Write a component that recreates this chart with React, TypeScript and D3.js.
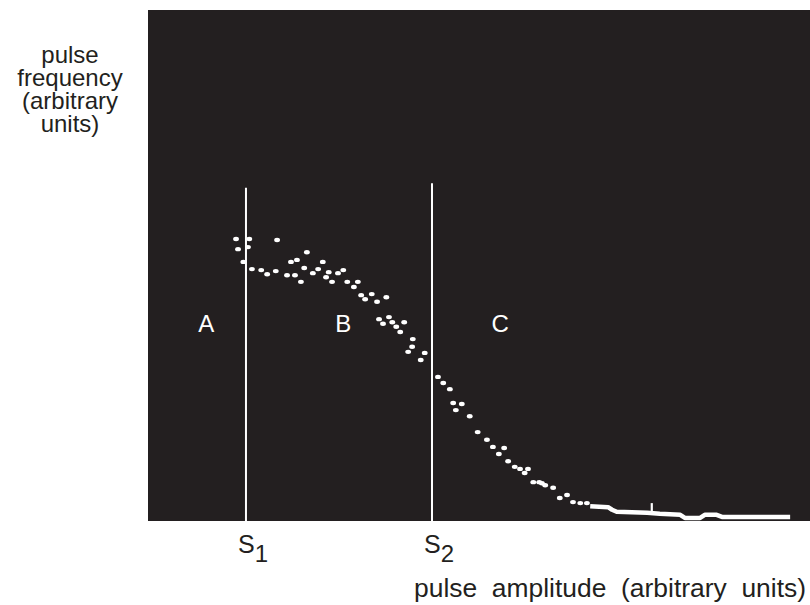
import React from "react";
import * as d3 from "d3";

// pulse amplitude (0-100 arbitrary units) vs pulse frequency (0-100 arbitrary units)
const scatterAmp = [
  13.3, 13.6, 14.4, 15.1, 15.3, 15.7, 17.1, 18.0, 19.3, 19.5, 21.0, 21.6, 22.2, 22.5, 23.1, 23.6, 24.0,
  24.9, 25.7, 26.4, 26.9, 27.3, 27.8, 28.7, 29.5, 30.1, 31.1, 31.7, 32.2, 32.8, 33.8, 34.6, 36.0, 34.9,
  35.5, 36.4, 36.9, 37.5, 38.1, 38.7, 39.3, 39.9, 40.0, 41.2, 41.8, 43.8, 44.6, 45.6, 46.1, 46.5, 47.4,
  48.6, 49.8, 51.2, 52.1, 53.0, 53.8, 54.4, 55.4, 56.2, 56.9, 57.4, 58.2, 59.1, 59.5, 60.0, 61.2, 62.2,
  63.3, 64.2, 65.3, 66.3,
];
const scatterFreq = [
  55.2, 53.2, 50.7, 53.6, 55.2, 49.3, 49.1, 48.3, 48.9, 55.0, 48.1, 50.7, 48.1, 51.1, 46.8, 49.5, 52.6,
  48.5, 49.3, 50.7, 47.7, 48.7, 46.8, 48.5, 49.1, 46.8, 45.8, 46.8, 44.2, 43.4, 44.4, 42.9, 43.8, 39.5,
  38.6, 39.9, 38.9, 38.0, 37.0, 38.9, 33.1, 34.1, 35.6, 31.5, 32.9, 28.2, 27.0, 25.8, 23.1, 21.7, 22.9,
  20.5, 17.4, 15.9, 14.5, 13.1, 14.3, 11.7, 10.6, 10.2, 9.4, 10.2, 7.6, 7.6, 7.4, 7.0, 6.5, 4.5,
  5.1, 3.7, 3.5, 3.5,
];
// dense tail of the distribution (merged points)
const tailAmp = [66.8, 69.5, 70.1, 70.8, 75.4, 77.3, 80.4, 81.1, 83.4, 84.1, 85.9, 86.7, 97.0];
const tailFreq = [2.9, 2.7, 2.2, 1.8, 1.6, 1.4, 1.2, 0.6, 0.6, 1.2, 1.2, 0.8, 0.8];
const spikeAmp = [76.1, 76.1];
const spikeFreq = [3.5, 1.8];

// thresholds
const thresholdNames = ["1", "2"];
const thresholdAmp = [14.8, 42.9];
const thresholdTop = [65.2, 66.1];

// regions
const regionLabels = ["A", "B", "C"];
const regionAmp = [8.8, 29.5, 53.2];
const regionFreq = [37.0, 37.0, 37.0];

const yLabelLines = ["pulse", "frequency", "(arbitrary", "units)"];
const xLabel = "pulse  amplitude  (arbitrary  units)";

const W = 810;
const H = 605;
const plot = { left: 148, right: 810, top: 10, bottom: 521 };
const FONT = "'Liberation Sans', Arial, Helvetica, sans-serif";

export default function App() {
  const x = d3.scaleLinear().domain([0, 100]).range([plot.left, plot.right]);
  const y = d3.scaleLinear().domain([0, 100]).range([plot.bottom, plot.top]);

  const tail = tailAmp.map((a, i) => [a, tailFreq[i]] as [number, number]);
  const spike = spikeAmp.map((a, i) => [a, spikeFreq[i]] as [number, number]);
  const line = d3
    .line<[number, number]>()
    .x((d) => x(d[0]))
    .y((d) => y(d[1]));

  return (
    <svg
      width={W}
      height={H}
      style={{ position: "absolute", left: 0, top: 0, background: "#fff" }}
      fontFamily={FONT}
    >
      <rect
        x={x(0)}
        y={y(100)}
        width={x(100) - x(0)}
        height={y(0) - y(100)}
        fill="#231f20"
      />
      {thresholdAmp.map((a, i) => (
        <line
          key={"t" + i}
          x1={x(a)}
          x2={x(a)}
          y1={y(thresholdTop[i])}
          y2={y(0)}
          stroke="#fff"
          strokeWidth={2}
        />
      ))}
      {scatterAmp.map((a, i) => (
        <ellipse key={"p" + i} cx={x(a)} cy={y(scatterFreq[i])} rx={2.9} ry={2.2} fill="#fff" />
      ))}
      <path d={line(tail) || ""} fill="none" stroke="#fff" strokeWidth={4.5} strokeLinejoin="round" />
      <path d={line(spike) || ""} fill="none" stroke="#fff" strokeWidth={2.2} />
      {regionLabels.map((l, i) => (
        <text
          key={"r" + i}
          x={x(regionAmp[i])}
          y={y(regionFreq[i])}
          fill="#fff"
          fontSize={24}
          textAnchor="middle"
        >
          {l}
        </text>
      ))}
      {thresholdAmp.map((a, i) => (
        <text key={"s" + i} x={x(a) - 8} y={553} fill="#231f20" fontSize={25}>
          S
          <tspan dy={9} fontSize={24}>
            {thresholdNames[i]}
          </tspan>
        </text>
      ))}
      {yLabelLines.map((l, i) => (
        <text key={"y" + i} x={70} y={63 + i * 23} fill="#231f20" fontSize={24} textAnchor="middle">
          {l}
        </text>
      ))}
      <text
        x={414}
        y={597}
        fill="#231f20"
        fontSize={25}
        textLength={392}
        lengthAdjust="spacingAndGlyphs"
        style={{ whiteSpace: "pre" }}
      >
        {xLabel}
      </text>
    </svg>
  );
}
